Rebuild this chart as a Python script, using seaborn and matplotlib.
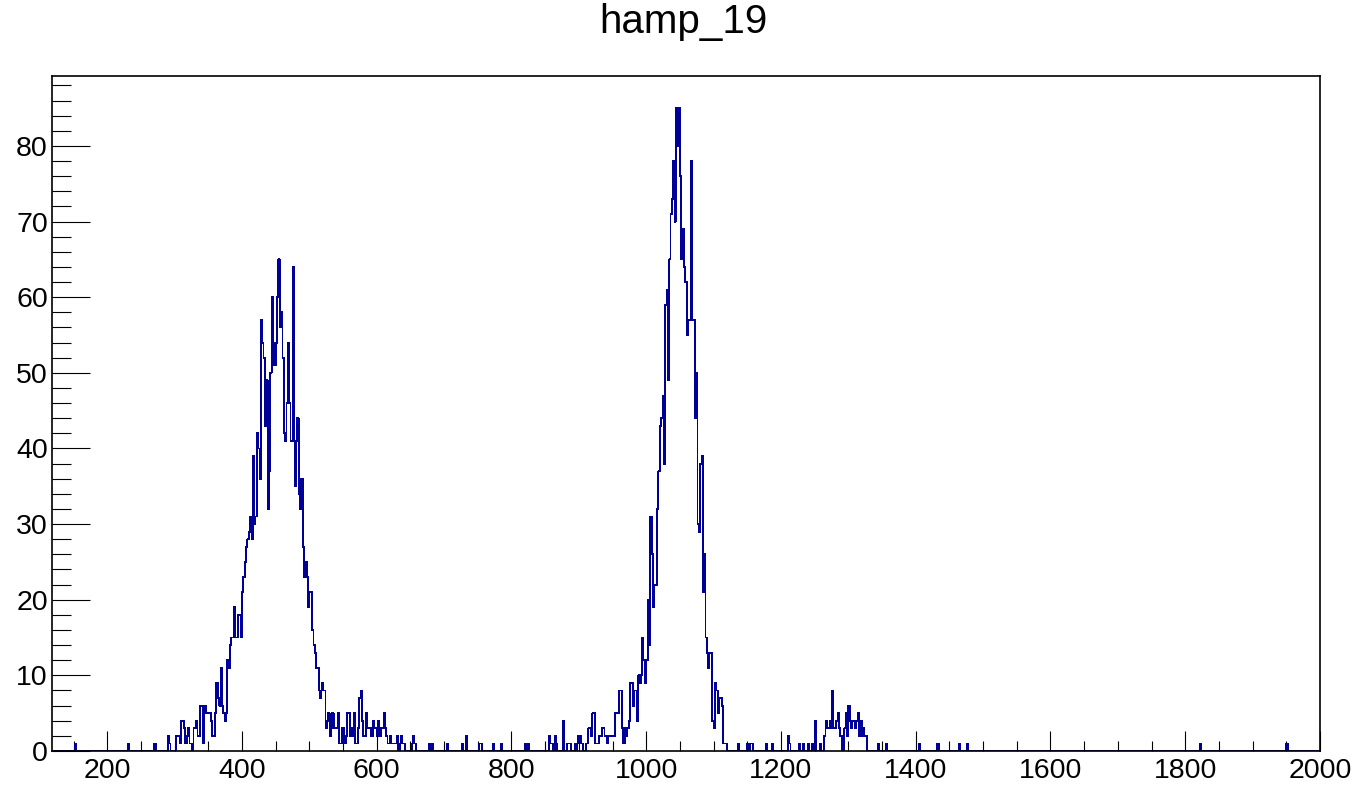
import numpy as np
import pandas as pd
import matplotlib
matplotlib.use("Agg")
import matplotlib.pyplot as plt
import seaborn as sns
from matplotlib.ticker import FixedLocator, MultipleLocator

TITLE = "hamp_19"
X_MIN, X_MAX, BIN_W = 118, 2000, 2
Y_MAX = 89.25

# counts per 2-unit bin, starting at the given lower edge
peak1_start = 302
peak1_counts = [
    2, 2, 2, 1, 4, 4, 3, 1, 2, 3,
    1, 1, 0, 3, 3, 4, 2, 2, 6, 6,
    1, 6, 5, 5, 5, 5, 4, 2, 2, 5,
    9, 7, 6, 11, 6, 5, 4, 5, 12, 11,
    14, 15, 15, 19, 15, 15, 18, 18, 15, 21,
    23, 25, 27, 28, 29, 31, 28, 39, 30, 31,
    42, 40, 36, 57, 54, 52, 43, 49, 32, 37,
    50, 60, 54, 51, 54, 60, 65, 56, 58, 52,
    42, 41, 46, 54, 46, 41, 41, 64, 35, 41,
    44, 34, 32, 36, 27, 23, 25, 23, 19, 21,
    21, 16, 14, 13, 11, 11, 8, 7, 9, 8,
    8, 3, 4, 5, 2, 3, 5, 3, 3, 3,
    5, 1, 1, 3, 3, 1, 2, 5, 5, 2,
    3, 2, 5, 1, 1, 3, 7, 8, 4, 2,
    2, 5, 3, 3, 3, 2, 4, 3, 3, 2,
    4, 2, 3, 3, 5, 3, 2, 1, 1, 2,
    1, 1, 1, 1, 2, 0, 1, 2, 1, 1,
    0, 0, 0, 0, 0, 1, 2, 1,
]

peak2_start = 856
peak2_counts = [
    2, 1, 1, 0, 2, 1, 0, 0, 0, 0,
    4, 0, 0, 1, 1, 1, 0, 0, 0, 1,
    0, 2, 1, 2, 1, 0, 0, 1, 1, 3,
    3, 2, 5, 5, 1, 1, 1, 2, 2, 3,
    3, 2, 2, 1, 2, 2, 2, 2, 2, 5,
    5, 5, 8, 8, 3, 1, 3, 2, 3, 4,
    9, 9, 6, 8, 8, 4, 10, 9, 10, 15,
    12, 9, 12, 20, 14, 31, 26, 19, 22, 22,
    32, 37, 43, 44, 47, 38, 59, 61, 49, 65,
    71, 73, 78, 70, 85, 80, 85, 76, 65, 69,
    64, 62, 55, 57, 57, 78, 57, 57, 44, 50,
    30, 29, 38, 39, 21, 26, 15, 13, 11, 13,
    13, 4, 3, 9, 8, 5, 7, 7, 6, 1,
    1, 1,
]

bump3_start = 1264
bump3_counts = [
    2, 4, 3, 3, 4, 3, 8, 3, 3, 4,
    5, 3, 2, 0, 0, 3, 5, 2, 6, 4,
    3, 4, 4, 3, 4, 5, 2, 4, 2, 3,
    2, 2,
]

sparse_edges = [152, 230, 270, 290, 292, 678, 682, 704, 726, 732,
                752, 754, 772, 784, 820, 824, 1136, 1150, 1154, 1156,
                1178, 1186, 1210, 1212, 1226, 1232, 1240, 1246, 1250, 1258,
                1344, 1356, 1404, 1432, 1464, 1476, 1822, 1950]
sparse_counts = [1, 1, 1, 2, 1, 1, 1, 1, 1, 2,
                 1, 1, 1, 1, 1, 1, 1, 1, 1, 1,
                 1, 1, 2, 1, 1, 1, 1, 1, 4, 1,
                 1, 1, 1, 1, 1, 1, 1, 1]

x_ticks = [200, 400, 600, 800, 1000, 1200, 1400, 1600, 1800, 2000]
y_ticks = [0, 10, 20, 30, 40, 50, 60, 70, 80]

# ---- assemble the histogram ----
n_bins = (X_MAX - X_MIN) // BIN_W
counts = np.zeros(n_bins)


def put(start, vals):
    i = (start - X_MIN) // BIN_W
    counts[i:i + len(vals)] = vals


put(peak1_start, peak1_counts)
put(peak2_start, peak2_counts)
put(bump3_start, bump3_counts)
for e, c in zip(sparse_edges, sparse_counts):
    put(e, [c])

centers = X_MIN + BIN_W * (np.arange(n_bins) + 0.5)
df = pd.DataFrame({"amp": centers, "n": counts})

sns.set_theme(style="white")
plt.rcParams["font.family"] = ["Liberation Sans", "DejaVu Sans"]

W, H = 1366, 805
fig = plt.figure(figsize=(W / 100, H / 100), dpi=100)
fig.patch.set_facecolor("white")
ax = fig.add_axes([52 / W, 1 - 751 / H, (1320 - 52) / W, (751 - 76) / H])
ax.set_facecolor("white")

sns.histplot(data=df, x="amp", weights="n", binwidth=BIN_W,
             binrange=(X_MIN, X_MAX), element="step",
             fill=False, color="#000099", linewidth=0.6, ax=ax, zorder=2,
             antialiased=False)

ax.set_xlim(X_MIN, X_MAX)
ax.set_ylim(0, Y_MAX)
ax.set_xlabel("")
ax.set_ylabel("")

ax.xaxis.set_major_locator(FixedLocator(x_ticks))
ax.xaxis.set_minor_locator(MultipleLocator(50))
ax.yaxis.set_major_locator(FixedLocator(y_ticks))
ax.yaxis.set_minor_locator(MultipleLocator(2))
ax.set_xticklabels([str(t) for t in x_ticks])
ax.set_yticklabels([str(t) for t in y_ticks])

for s in ax.spines.values():
    s.set_visible(True)
    s.set_color("black")
    s.set_linewidth(1.2)
    s.set_zorder(5)

ax.tick_params(which="both", direction="in", top=False, right=False,
               bottom=True, left=True, color="black", width=0.8,
               labelsize=20.5, labelcolor="black")
ax.tick_params(axis="x", which="major", length=14.6, pad=5)
ax.tick_params(axis="x", which="minor", length=7.3)
ax.tick_params(axis="y", which="major", length=27.4, pad=3)
ax.tick_params(axis="y", which="minor", length=13.7)

fig.text(0.5, 1 - 22 / H, TITLE, ha="center", va="center", fontsize=29,
         color="black")

fig.savefig("out.png", dpi=100, facecolor="white")
